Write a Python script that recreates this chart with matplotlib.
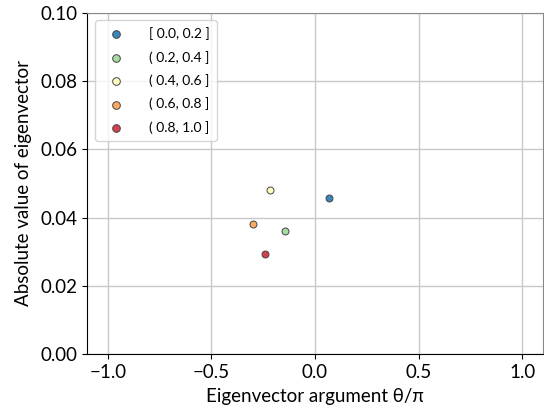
import matplotlib
matplotlib.use('Agg')
import matplotlib.pyplot as plt

plt.rcParams['font.family'] = ['Lato', 'DejaVu Sans']

# data
labels = ['[ 0.0, 0.2 ]', '( 0.2, 0.4 ]', '( 0.4, 0.6 ]', '( 0.6, 0.8 ]', '( 0.8, 1.0 ]']
colors = ['#3a87bd', '#a8dba2', '#ffffbf', '#fcab62', '#d6404f']
theta = [0.067, -0.144, -0.216, -0.297, -0.242]
absval = [0.0458, 0.0360, 0.0482, 0.0382, 0.0294]

W, H = 544, 413
fig = plt.figure(figsize=(W / 100, H / 100), dpi=100)
ax = fig.add_axes([87 / W, 1 - 354 / H, (543 - 87) / W, (354 - 13) / H])

for x, y, c, lab in zip(theta, absval, colors, labels):
    ax.scatter([x], [y], s=25, color=c, edgecolor='#444444', linewidth=0.7,
               label=lab, zorder=3)

ax.set_xlim(-1.1, 1.1)
ax.set_ylim(0.0, 0.1)
ax.set_xticks([-1.0, -0.5, 0.0, 0.5, 1.0])
ax.set_yticks([0.0, 0.02, 0.04, 0.06, 0.08, 0.1])
ax.set_xticklabels(['\u22121.0', '\u22120.5', '0.0', '0.5', '1.0'])
ax.set_yticklabels(['0.00', '0.02', '0.04', '0.06', '0.08', '0.10'])
ax.tick_params(labelsize=13.5)
ax.grid(True, color='#c8c8c8', linewidth=1.0)
ax.set_axisbelow(True)
for s in ('top', 'right'):
    ax.spines[s].set_color('#888888')

ax.set_xlabel('Eigenvector argument \u03b8/\u03c0', fontsize=13.5, labelpad=5)
ax.set_ylabel('Absolute value of eigenvector', fontsize=13.5, labelpad=6)

ax.legend(loc='upper left', fontsize=10, frameon=True, borderpad=0.5,
          handletextpad=1.4, labelspacing=0.75, borderaxespad=0.4,
          markerscale=1.1, bbox_to_anchor=(0.005, 0.995))

fig.savefig('out.png', dpi=100)
